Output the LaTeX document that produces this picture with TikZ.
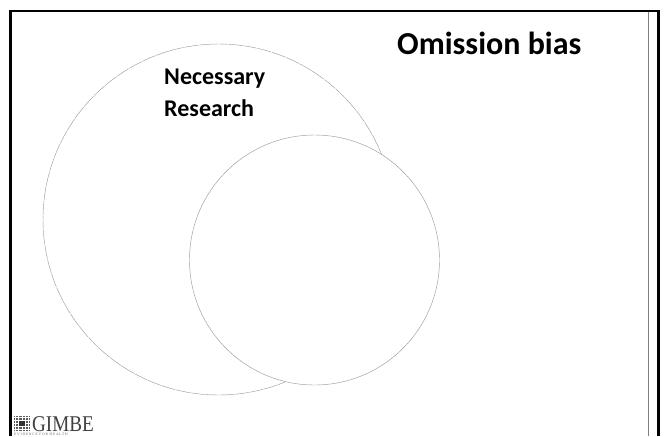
\documentclass[tikz,border=0pt]{standalone}
\usepackage{fontspec}
\setmainfont{Carlito}
\newfontfamily\logofont{Liberation Serif}
\newfontfamily\tagfont[LetterSpace=22]{Liberation Serif}
\tikzset{
  frameline/.style={line width=2.6pt,black},
  circ/.style={draw=black!38,line width=0.45pt,fill=white},
  bigtext/.style={font=\bfseries\fontsize{32}{36}\selectfont,inner sep=0,anchor=base west,text=black},
  labeltext/.style={font=\bfseries\fontsize{24}{32}\selectfont,inner sep=0,anchor=base west,text=black}
}
\begin{document}
\begin{tikzpicture}[x=1pt,y=-1pt]
\useasboundingbox (0,0) rectangle (666,436);
\fill[white] (0,0) rectangle (666,436);
\node[circle,circ,minimum size=351pt,inner sep=0,dash pattern=on 14pt off 0.8pt] (large) at (218.5,219.5) {};
\node[circle,circ,minimum size=250pt,inner sep=0] (small) at (314.5,260) {};
\node[bigtext] (title) at (397,54.5) {Omission bias};
\node[labeltext] (lab1) at (164,84.3) {Necessary};
\node[labeltext] (lab2) at (164,116) {Research};
\draw[black!50,line width=0.9pt] (648,11) -- (648,436);
\draw[frameline] (10.5,436) -- (10.5,11) -- (658.5,11) -- (658.5,436);
\node[inner sep=0,anchor=base west,text=black!75,font=\logofont\fontsize{22.5}{22}\selectfont,xscale=0.85] (logo) at (32,431) {GIMBE};
\node[inner sep=0,anchor=base west,text=black!60,font=\tagfont\fontsize{3.6}{4}\selectfont] (tag) at (14,435.6) {EVIDENCE FOR HEALTH};
\fill[black!65] (14,416) rectangle (30,431);
\foreach \i in {0,...,4}{
  \draw[white,line width=0.7pt] (14,{417.5+3*\i}) -- (30,{417.5+3*\i});
  \draw[white,line width=0.7pt] ({15.5+3.2*\i},416) -- ({15.5+3.2*\i},431);
}
\fill[black!80] (19,421) rectangle (25,426);
\end{tikzpicture}
\end{document}
